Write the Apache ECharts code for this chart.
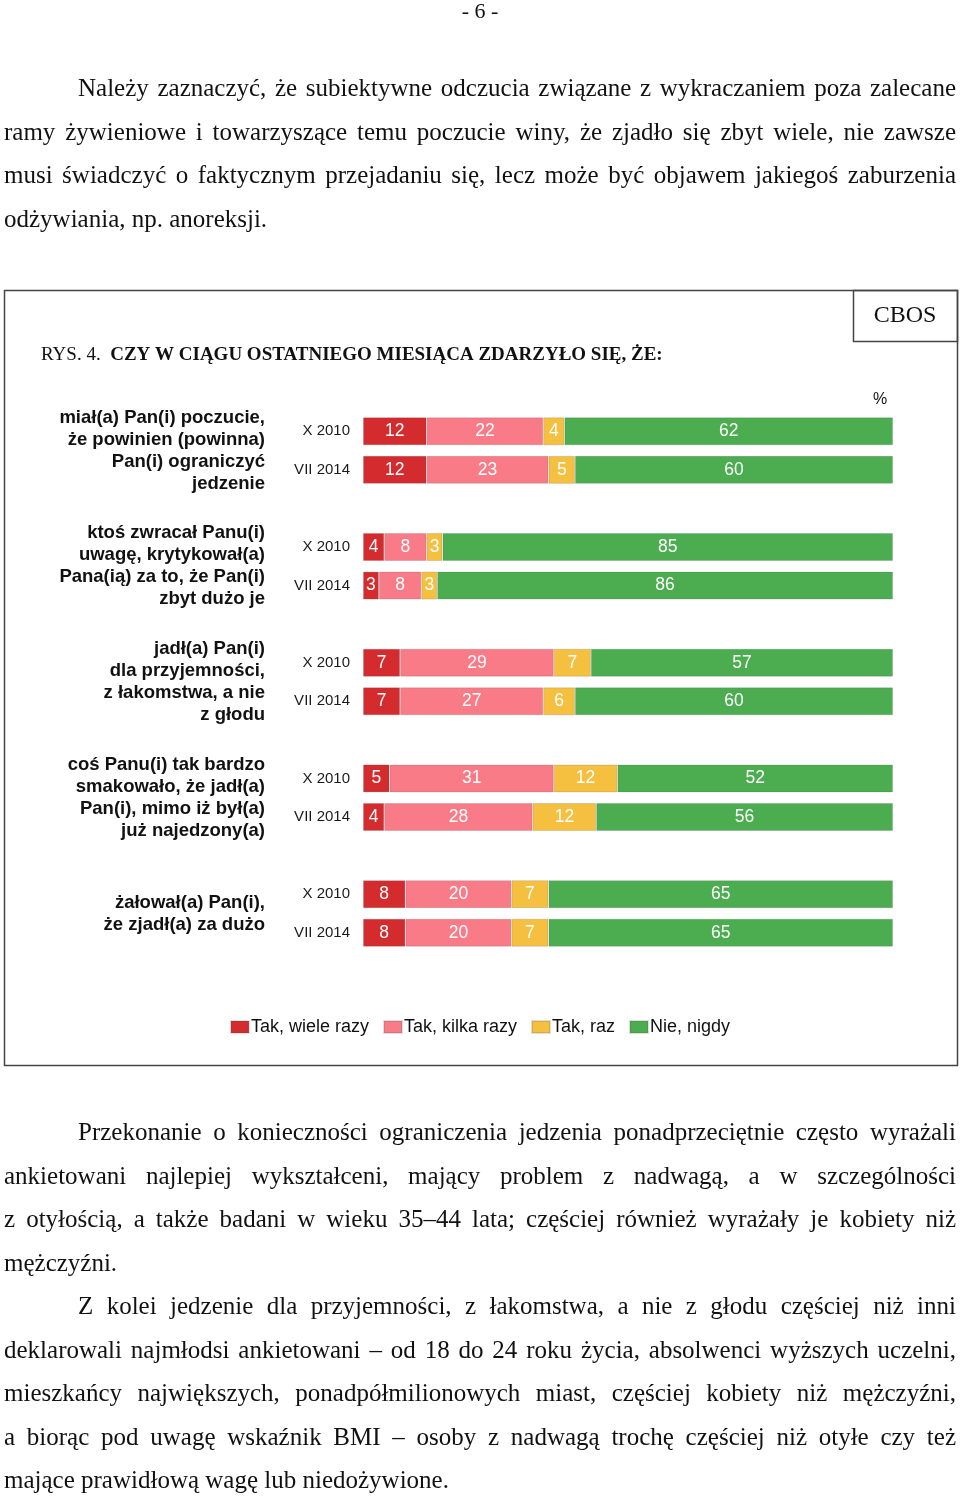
<!DOCTYPE html>
<html lang="pl">
<head>
<meta charset="utf-8">
<script src="https://cdn.jsdelivr.net/npm/echarts@6/dist/echarts.min.js"></script>
<style>
  html, body { margin: 0; padding: 0; background: #fff; }
  body { width: 960px; height: 1496px; position: relative; overflow: hidden; }
  #chart { position: absolute; left: 0; top: 0; width: 960px; height: 1496px; }
  .txt { position: absolute; left: 4px; width: 952px; font-family: "Liberation Serif", "Times New Roman", serif; font-size: 25px; color: #111; z-index: 2; }
  .l { height: 43.5px; line-height: 43.5px; white-space: nowrap; }
  .j { text-align: justify; text-align-last: justify; white-space: normal; overflow: hidden; }
  .ind { padding-left: 74px; }
  #pnum { position: absolute; left: 0; width: 960px; top: -2px; text-align: center; font-family: "Liberation Serif", serif; font-size: 22px; color: #111; z-index: 2; }
</style>
</head>
<body>
<div id="chart"></div>
<div id="pnum">- 6 -</div>
<div class="txt" style="top:66px">
  <div class="l j ind">Należy zaznaczyć, że subiektywne odczucia związane z wykraczaniem poza zalecane</div>
  <div class="l j">ramy żywieniowe i towarzyszące temu poczucie winy, że zjadło się zbyt wiele, nie zawsze</div>
  <div class="l j">musi świadczyć o faktycznym przejadaniu się, lecz może być objawem jakiegoś zaburzenia</div>
  <div class="l">odżywiania, np. anoreksji.</div>
</div>
<div class="txt" style="top:1110px">
  <div class="l j ind">Przekonanie o konieczności ograniczenia jedzenia ponadprzeciętnie często wyrażali</div>
  <div class="l j">ankietowani najlepiej wykształceni, mający problem z nadwagą, a w szczególności</div>
  <div class="l j">z&nbsp;otyłością, a także badani w wieku 35–44 lata; częściej również wyrażały je kobiety niż</div>
  <div class="l">mężczyźni.</div>
  <div class="l j ind">Z kolei jedzenie dla przyjemności, z łakomstwa, a nie z głodu częściej niż inni</div>
  <div class="l j">deklarowali najmłodsi ankietowani – od 18 do 24 roku życia, absolwenci wyższych uczelni,</div>
  <div class="l j">mieszkańcy największych, ponadpółmilionowych miast, częściej kobiety niż mężczyźni,</div>
  <div class="l j">a&nbsp;biorąc pod uwagę wskaźnik BMI – osoby z nadwagą trochę częściej niż otyłe czy też</div>
  <div class="l">mające prawidłową wagę lub niedożywione.</div>
</div>
<script>
// ---- data ----
const categories = ['X 2010','VII 2014','', 'X 2010','VII 2014','', 'X 2010','VII 2014','', 'X 2010','VII 2014','', 'X 2010','VII 2014'];
const groupLabels = [
  'miał(a) Pan(i) poczucie,\nże powinien (powinna)\nPan(i) ograniczyć\njedzenie',
  'ktoś zwracał Panu(i)\nuwagę, krytykował(a)\nPana(ią) za to, że Pan(i)\nzbyt dużo je',
  'jadł(a) Pan(i)\ndla przyjemności,\nz łakomstwa, a nie\nz głodu',
  'coś Panu(i) tak bardzo\nsmakowało, że jadł(a)\nPan(i), mimo iż był(a)\njuż najedzony(a)',
  'żałował(a) Pan(i),\nże zjadł(a) za dużo'
];
const groupPositions = [0.5, 3.5, 6.5, 9.5, 12.5];
const seriesNames = ['Tak, wiele razy', 'Tak, kilka razy', 'Tak, raz', 'Nie, nigdy'];
const wieleRazy = [12, 12, null, 4, 3, null, 7, 7, null, 5, 4, null, 8, 8];
const kilkaRazy = [22, 23, null, 8, 8, null, 29, 27, null, 31, 28, null, 20, 20];
const raz       = [4, 5, null, 3, 3, null, 7, 6, null, 12, 12, null, 7, 7];
const nigdy     = [62, 60, null, 85, 86, null, 57, 60, null, 52, 56, null, 65, 65];
const colors = ['#D42B2E', '#F97B87', '#F5C040', '#4BAD4F'];

const seriesData = [wieleRazy, kilkaRazy, raz, nigdy];

const chart = echarts.init(document.getElementById('chart'), null, { renderer: 'canvas' });
const sans = '"Liberation Sans", Arial, sans-serif';
const serif = '"Liberation Serif", "Times New Roman", serif';

const option = {
  animation: false,
  color: colors,
  grid: { left: 363, width: 530, top: 412, height: 540, containLabel: false },
  xAxis: { type: 'value', min: 0, max: 100, show: false },
  yAxis: [
    {
      type: 'category', data: categories, inverse: true,
      axisLine: { show: false }, axisTick: { show: false },
      axisLabel: { margin: 13, fontFamily: sans, fontSize: 15, color: '#1a1a1a', interval: 0 }
    },
    {
      type: 'value', min: -0.5, max: 13.5, inverse: true, position: 'left',
      axisLine: { show: false }, axisTick: { show: false }, splitLine: { show: false },
      axisLabel: {
        customValues: groupPositions,
        margin: 98, fontFamily: sans, fontSize: 18.5, fontWeight: 'bold', lineHeight: 22,
        color: '#111', align: 'right',
        formatter: function (v) {
          const i = groupPositions.findIndex(p => Math.abs(p - v) < 0.01);
          return i >= 0 ? groupLabels[i] : '';
        }
      }
    }
  ],
  legend: {
    data: seriesNames, top: 1013, left: 'center', icon: 'rect',
    itemWidth: 18, itemHeight: 12, itemGap: 14,
    textStyle: { fontFamily: sans, fontSize: 18, color: '#111', padding: [0, 0, 0, -3] }
  },
  series: seriesNames.map((name, k) => ({
    name: name, type: 'bar', stack: 'total', barWidth: 28, yAxisIndex: 0,
    data: seriesData[k],
    itemStyle: { color: colors[k], borderColor: 'rgba(80,80,80,0.18)', borderWidth: 1 },
    label: { show: true, position: 'inside', color: '#fff', fontFamily: sans, fontSize: 17.5 }
  })),
  graphic: [
    { type: 'rect', shape: { x: 4.5, y: 290.5, width: 953, height: 775 }, style: { fill: 'none', stroke: '#444', lineWidth: 1.5 }, silent: true },
    { type: 'rect', shape: { x: 853.5, y: 290.5, width: 104, height: 51 }, style: { fill: 'none', stroke: '#444', lineWidth: 1.5 }, silent: true },
    { type: 'text', x: 905, y: 316, style: { text: 'CBOS', font: '24px ' + serif, fill: '#111', align: 'center', verticalAlign: 'middle' } },
    { type: 'text', x: 41, y: 355, style: {
        text: '{r|RYS. 4.  }{b|CZY W CIĄGU OSTATNIEGO MIESIĄCA ZDARZYŁO SIĘ, ŻE:}',
        verticalAlign: 'middle',
        rich: {
          r: { fontFamily: serif, fontSize: 19, fill: '#111', color: '#111' },
          b: { fontFamily: serif, fontSize: 19, fontWeight: 'bold', fill: '#111', color: '#111' }
        } } },
    { type: 'text', x: 880, y: 400, style: { text: '%', font: '16px ' + sans, fill: '#111', align: 'center', verticalAlign: 'middle' } }
  ]
};
chart.setOption(option);
</script>
</body>
</html>
